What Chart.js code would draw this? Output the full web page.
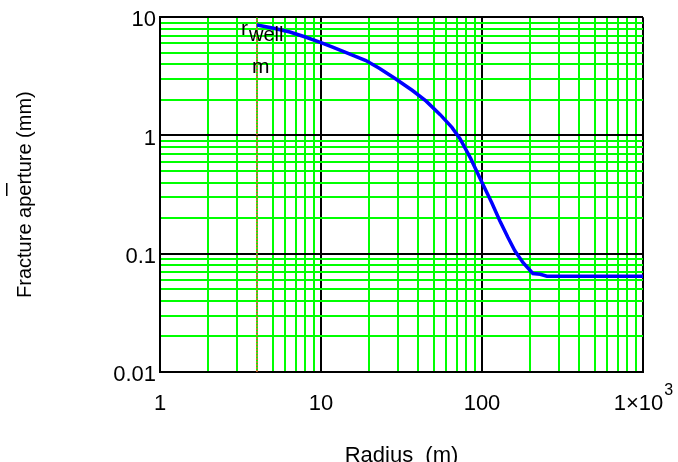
<!DOCTYPE html>
<html>
<head>
<meta charset="utf-8">
<script src="https://cdn.jsdelivr.net/npm/chart.js@4/dist/chart.umd.min.js"></script>
<style>
  body { margin: 0; background: #fff; }
  canvas { display: block; }
</style>
</head>
<body>
<canvas id="aperture_chart" width="678" height="462"></canvas>
<script>
// fracture aperture vs radius
var radius   = [4, 5, 6.4, 8, 10, 11.7, 15, 19, 23, 28.7, 37, 45, 55, 65, 73, 85, 100, 115, 129, 145, 160, 180, 207, 230, 253, 400, 1000];
var aperture = [8.6, 8.1, 7.5, 6.8, 6.1, 5.6, 4.9, 4.3, 3.7, 3.05, 2.4, 1.95, 1.5, 1.17, 0.94, 0.64, 0.40, 0.27, 0.19, 0.137, 0.106, 0.084, 0.068, 0.067, 0.0646, 0.0646, 0.0646];
var rWell = 4;

var xMajor  = [1, 10, 100, 1000];
var xLabels = ['1', '10', '100', ''];
var xLastLabel = ['1\u00d710', '3'];
var yMajor  = [0.01, 0.1, 1, 10];
var yLabels = ['0.01', '0.1', '1', '10'];

var FONT = "'Liberation Sans', Arial, sans-serif";

function logTicks(majors) {
  var out = [];
  for (var i = 0; i < majors.length - 1; i++) {
    for (var k = 1; k < 10; k++) out.push(k * majors[i]);
  }
  out.push(majors[majors.length - 1]);
  return out;
}
function majorIndex(list, v) {
  for (var i = 0; i < list.length; i++) {
    if (Math.abs(v - list[i]) < list[i] * 1e-6) return i;
  }
  return -1;
}
var xTickVals = logTicks(xMajor);
var yTickVals = logTicks(yMajor);

var extraText = {
  id: 'extraText',
  afterDraw: function(chart) {
    var ctx = chart.ctx;
    var xs = chart.scales.x;
    ctx.save();
    ctx.fillStyle = '#000';
    // r_well marker label
    var px = xs.getPixelForValue(rWell);
    ctx.textAlign = 'left';
    ctx.textBaseline = 'alphabetic';
    ctx.font = '21px ' + FONT;
    ctx.fillText('r', px - 16, 35);
    ctx.font = '20px ' + FONT;
    ctx.fillText('well', px - 8, 41);
    ctx.font = '21px ' + FONT;
    ctx.fillText('m', px - 5, 73);
    // 1x10^3 tick label
    var p = xs.getPixelForValue(xMajor[xMajor.length - 1]);
    ctx.font = '22px ' + FONT;
    var w1 = ctx.measureText(xLastLabel[0]).width;
    ctx.font = '16px ' + FONT;
    var w2 = ctx.measureText(xLastLabel[1]).width;
    var x0 = p - (w1 + w2) / 2;
    ctx.font = '22px ' + FONT;
    ctx.textBaseline = 'middle';
    ctx.fillText(xLastLabel[0], x0, xs.top + 32);
    ctx.font = '16px ' + FONT;
    ctx.textBaseline = 'alphabetic';
    ctx.fillText(xLastLabel[1], x0 + w1 + 1, xs.top + 23);
    // small stray mark left of the y title
    ctx.fillRect(6, 183, 1.5, 13);
    ctx.restore();
  }
};

var chart_ctx = document.querySelector('#aperture_chart').getContext('2d');

var chart = new Chart(chart_ctx, {
  type: 'scatter',
  data: {
    datasets: [{
      label: 'aperture',
      data: radius.map(function(r, i) { return {x: r, y: aperture[i]}; }),
      showLine: true,
      borderColor: '#0000ff',
      borderWidth: 3.5,
      pointRadius: 0,
      tension: 0
    }, {
      label: 'r_well',
      data: [{x: rWell, y: yMajor[0]}, {x: rWell, y: yMajor[yMajor.length - 1]}],
      showLine: true,
      borderColor: '#e2603a',
      borderWidth: 1.5,
      borderDash: [2, 1],
      pointRadius: 0
    }]
  },
  options: {
    responsive: false,
    animation: false,
    layout: { padding: { top: 17, right: 35, left: 0, bottom: 0 } },
    plugins: {
      legend: { display: false },
      tooltip: { enabled: false }
    },
    scales: {
      x: {
        type: 'logarithmic',
        min: xMajor[0],
        max: xMajor[xMajor.length - 1],
        afterBuildTicks: function(axis) {
          axis.ticks = xTickVals.map(function(v) { return {value: v}; });
        },
        afterFit: function(axis) { axis.height = 90; },
        grid: {
          color: function(c) { return majorIndex(xMajor, c.tick.value) >= 0 ? '#000' : '#00ff00'; },
          lineWidth: 2,
          drawTicks: false
        },
        border: { color: '#000', width: 2 },
        ticks: {
          autoSkip: false,
          maxRotation: 0,
          minRotation: 0,
          padding: 19,
          color: '#000',
          font: { family: FONT, size: 22 },
          callback: function(v) {
            var i = majorIndex(xMajor, v);
            return i >= 0 ? xLabels[i] : '';
          }
        },
        title: {
          display: true,
          text: 'Radius  (m)',
          color: '#000',
          font: { family: FONT, size: 22 },
          padding: { top: 0, bottom: -7 }
        }
      },
      y: {
        type: 'logarithmic',
        min: yMajor[0],
        max: yMajor[yMajor.length - 1],
        afterBuildTicks: function(axis) {
          axis.ticks = yTickVals.map(function(v) { return {value: v}; });
        },
        afterFit: function(axis) { axis.width = 160; },
        grid: {
          color: function(c) { return majorIndex(yMajor, c.tick.value) >= 0 ? '#000' : '#00ff00'; },
          lineWidth: 2,
          drawTicks: false
        },
        border: { color: '#000', width: 2 },
        ticks: {
          autoSkip: false,
          padding: 4,
          labelOffset: 3,
          color: '#000',
          font: { family: FONT, size: 22 },
          callback: function(v) {
            var i = majorIndex(yMajor, v);
            return i >= 0 ? yLabels[i] : '';
          }
        },
        title: {
          display: true,
          text: 'Fracture aperture (mm)',
          color: '#000',
          font: { family: FONT, size: 20 },
          padding: { top: 13, bottom: 0 }
        }
      }
    }
  },
  plugins: [extraText]
});
</script>
</body>
</html>
